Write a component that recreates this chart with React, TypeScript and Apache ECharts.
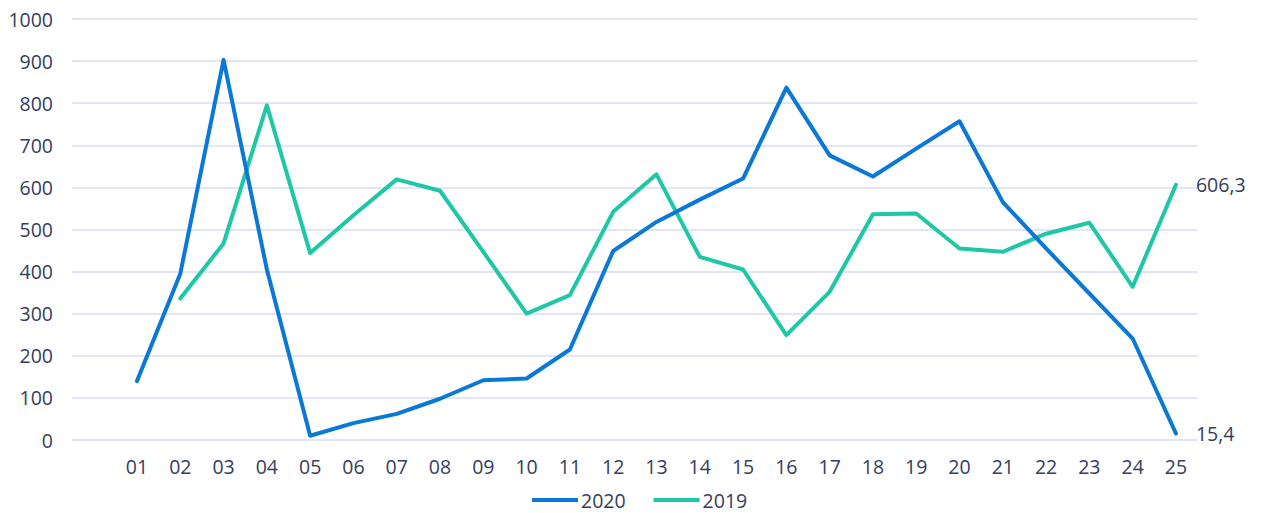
import React, { useEffect, useRef } from "react";
import * as echarts from "echarts";

const categories = ["01","02","03","04","05","06","07","08","09","10","11","12","13","14","15","16","17","18","19","20","21","22","23","24","25"];
const values2020 = [140, 395, 903, 405, 10, 40, 62, 98, 142, 146, 215, 449, 518, 571, 621, 837, 676, 626, 692, 757, 565, 455, 348, 241, 15.4];
const values2019 = [null, 336, 467, 795, 444, 534, 619, 592, 447, 300, 344, 542, 631, 435, 405, 249, 352, 536, 538, 455, 447, 490, 516, 364, 606.3];
const yTicks = [0, 100, 200, 300, 400, 500, 600, 700, 800, 900, 1000];

const TEXT = "#363d5e";
const FONT = "Open Sans";
const FS = 19.5;

export default function App() {
  const ref = useRef<HTMLDivElement>(null);
  useEffect(() => {
    document.body.style.margin = "0";
    if (!ref.current) return;
    const chart = echarts.init(ref.current, null, { renderer: "svg" });
    const fmt = (v: number) => String(v).replace(".", ",");
    chart.setOption({
      animation: false,
      backgroundColor: "#ffffff",
      textStyle: { fontFamily: FONT, color: TEXT },
      legend: {
        top: 490,
        left: 527,
        padding: [0, 5, 0, 5],
        icon: "rect",
        itemWidth: 46,
        itemHeight: 4,
        itemGap: 28,
        textStyle: { fontFamily: FONT, fontSize: FS, color: TEXT, padding: [0, 0, 0, -2] },
        data: ["2020", "2019"],
      },
      grid: [
        { left: 115.35, right: 63.4, top: 19, bottom: 73 },
        { left: 72, right: 63.4, top: 19, bottom: 73 },
      ],
      xAxis: [
        {
          type: "category",
          gridIndex: 0,
          data: categories,
          boundaryGap: true,
          axisLine: { show: false },
          axisTick: { show: false },
          axisLabel: { fontFamily: FONT, fontSize: FS, color: TEXT, margin: 16 },
        },
        {
          type: "value",
          gridIndex: 1,
          show: false,
          min: 0,
          max: 1,
        },
      ],
      yAxis: [
        {
          type: "value",
          gridIndex: 0,
          min: 0,
          max: 1000,
          interval: 100,
          show: false,
        },
        {
          type: "value",
          gridIndex: 1,
          min: yTicks[0],
          max: yTicks[yTicks.length - 1],
          interval: 100,
          axisLine: { show: false },
          axisTick: { show: false },
          axisLabel: {
            fontFamily: FONT,
            fontSize: FS,
            color: TEXT,
            margin: 19,
            formatter: (v: number) => String(v),
          },
          splitLine: { show: true, lineStyle: { color: "#d9dbf6", width: 1.5 } },
        },
      ],
      series: [
        {
          name: "2020",
          type: "line",
          xAxisIndex: 0,
          yAxisIndex: 0,
          data: values2020,
          showSymbol: false,
          symbol: "none",
          lineStyle: { color: "#0a78d6", width: 4, join: "round", cap: "round" },
          itemStyle: { color: "#0a78d6" },
          endLabel: {
            show: true,
            formatter: (p: any) => fmt(p.value),
            fontFamily: FONT,
            fontSize: FS,
            color: TEXT,
            distance: 20,
          },
          z: 3,
        },
        {
          name: "2019",
          type: "line",
          xAxisIndex: 0,
          yAxisIndex: 0,
          data: values2019,
          showSymbol: false,
          symbol: "none",
          lineStyle: { color: "#1ec7a6", width: 4, join: "round", cap: "round" },
          itemStyle: { color: "#1ec7a6" },
          endLabel: {
            show: true,
            formatter: (p: any) => fmt(p.value),
            fontFamily: FONT,
            fontSize: FS,
            color: TEXT,
            distance: 20,
          },
          z: 2,
        },
      ],
    });
    return () => chart.dispose();
  }, []);
  return <div ref={ref} style={{ width: 1261, height: 513 }} />;
}
